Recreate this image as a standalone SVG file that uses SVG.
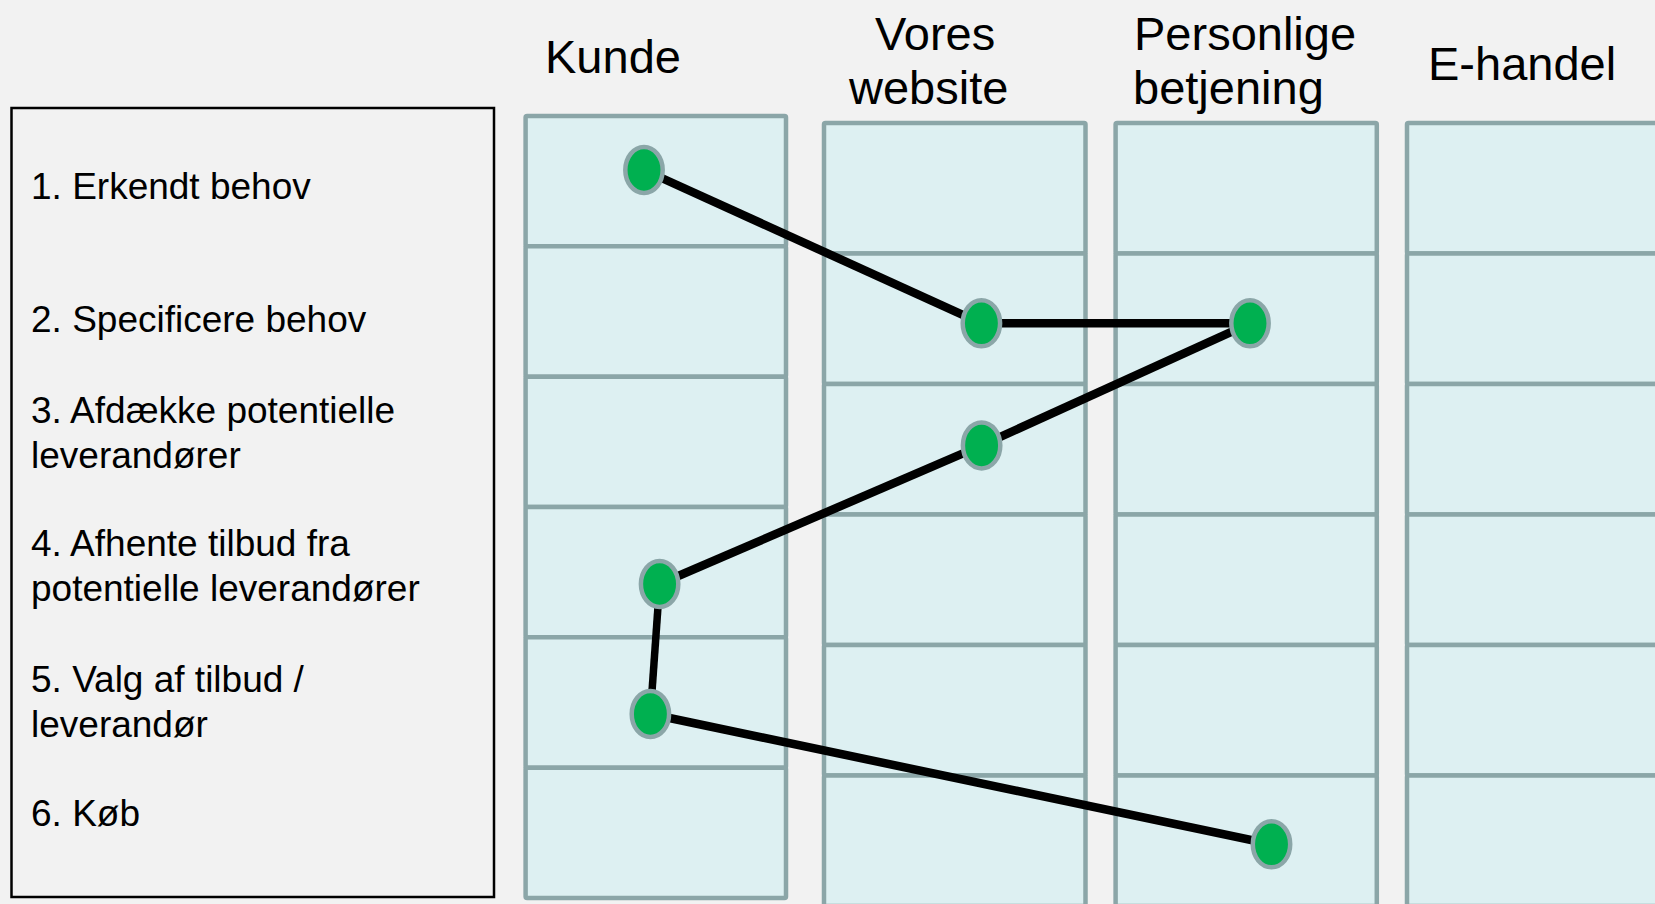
<svg xmlns="http://www.w3.org/2000/svg" width="1655" height="904" viewBox="0 0 1655 904">
<style>
.bg{fill:#F2F2F2}
.cell{fill:#DDF0F2;stroke:#8BA6A8;stroke-width:4.5}
.lbl{font-family:"Liberation Sans",Arial,sans-serif;font-size:37px;fill:#000}
.hdr{font-family:"Liberation Sans",Arial,sans-serif;font-size:47px;fill:#000}
.dot{fill:#00B050;stroke:#8BA6A8;stroke-width:4.5}
.conn{stroke:#000;stroke-width:8.5;fill:none;stroke-linecap:butt}
</style>
<rect class="bg" x="0" y="0" width="1655" height="904"/>

<g id="steps">
<rect x="11.5" y="108" width="482.5" height="789" fill="none" stroke="#000" stroke-width="2.5"/>
<text class="lbl" x="31" y="199">1. Erkendt behov</text>
<text class="lbl" x="31" y="332">2. Specificere behov</text>
<text class="lbl" x="31" y="423">3. Afdække potentielle</text>
<text class="lbl" x="31" y="468">leverandører</text>
<text class="lbl" x="31" y="556">4. Afhente tilbud fra</text>
<text class="lbl" x="31" y="601">potentielle leverandører</text>
<text class="lbl" x="31" y="692">5. Valg af tilbud /</text>
<text class="lbl" x="31" y="737">leverandør</text>
<text class="lbl" x="31" y="826">6. Køb</text>
</g>

<g id="col-kunde">
<text class="hdr" x="545" y="73">Kunde</text>
<rect class="cell" x="525.6" y="116" width="260.4" height="130.3" rx="1.5"/>
<rect class="cell" x="525.6" y="246.3" width="260.4" height="130.4" rx="1.5"/>
<rect class="cell" x="525.6" y="376.7" width="260.4" height="130.3" rx="1.5"/>
<rect class="cell" x="525.6" y="507" width="260.4" height="130.3" rx="1.5"/>
<rect class="cell" x="525.6" y="637.3" width="260.4" height="130.4" rx="1.5"/>
<rect class="cell" x="525.6" y="767.7" width="260.4" height="130.3" rx="1.5"/>
</g>

<g id="col-website">
<text class="hdr" x="875" y="50">Vores</text>
<text class="hdr" x="849" y="104">website</text>
<rect class="cell" x="824" y="123" width="261.5" height="130.5" rx="1.5"/>
<rect class="cell" x="824" y="253.5" width="261.5" height="130.5" rx="1.5"/>
<rect class="cell" x="824" y="384" width="261.5" height="130.5" rx="1.5"/>
<rect class="cell" x="824" y="514.5" width="261.5" height="130.5" rx="1.5"/>
<rect class="cell" x="824" y="645" width="261.5" height="130.5" rx="1.5"/>
<rect class="cell" x="824" y="775.5" width="261.5" height="130.5" rx="1.5"/>
</g>

<g id="col-personlig">
<text class="hdr" x="1134" y="50">Personlige</text>
<text class="hdr" x="1133" y="104">betjening</text>
<rect class="cell" x="1115.6" y="123" width="261.2" height="130.5" rx="1.5"/>
<rect class="cell" x="1115.6" y="253.5" width="261.2" height="130.5" rx="1.5"/>
<rect class="cell" x="1115.6" y="384" width="261.2" height="130.5" rx="1.5"/>
<rect class="cell" x="1115.6" y="514.5" width="261.2" height="130.5" rx="1.5"/>
<rect class="cell" x="1115.6" y="645" width="261.2" height="130.5" rx="1.5"/>
<rect class="cell" x="1115.6" y="775.5" width="261.2" height="130.5" rx="1.5"/>
</g>

<g id="col-ehandel">
<text class="hdr" x="1428" y="80">E-handel</text>
<rect class="cell" x="1407" y="123" width="261.5" height="130.5" rx="1.5"/>
<rect class="cell" x="1407" y="253.5" width="261.5" height="130.5" rx="1.5"/>
<rect class="cell" x="1407" y="384" width="261.5" height="130.5" rx="1.5"/>
<rect class="cell" x="1407" y="514.5" width="261.5" height="130.5" rx="1.5"/>
<rect class="cell" x="1407" y="645" width="261.5" height="130.5" rx="1.5"/>
<rect class="cell" x="1407" y="775.5" width="261.5" height="130.5" rx="1.5"/>
</g>

<g id="connectors">
<line class="conn" x1="644" y1="170" x2="981.4" y2="323.3"/>
<line class="conn" x1="981.4" y1="323.3" x2="1250" y2="323.3"/>
<line class="conn" x1="1250" y1="323.3" x2="981.6" y2="445.4"/>
<line class="conn" x1="981.6" y1="445.4" x2="659.6" y2="584"/>
<line class="conn" x1="659.6" y1="584" x2="650.4" y2="714" style="stroke-width:7.5"/>
<line class="conn" x1="650.4" y1="714" x2="1271.5" y2="844.3"/>
</g>

<g id="dot1"><ellipse class="dot" cx="644" cy="170" rx="18.7" ry="23"/></g>
<g id="dot2"><ellipse class="dot" cx="981.4" cy="323.3" rx="18.7" ry="23"/></g>
<g id="dot3"><ellipse class="dot" cx="1250" cy="323.3" rx="18.7" ry="23"/></g>
<g id="dot4"><ellipse class="dot" cx="981.6" cy="445.4" rx="18.7" ry="23"/></g>
<g id="dot5"><ellipse class="dot" cx="659.6" cy="584" rx="18.7" ry="23"/></g>
<g id="dot6"><ellipse class="dot" cx="650.4" cy="714" rx="18.7" ry="23"/></g>
<g id="dot7"><ellipse class="dot" cx="1271.5" cy="844.3" rx="18.7" ry="23"/></g>
</svg>
